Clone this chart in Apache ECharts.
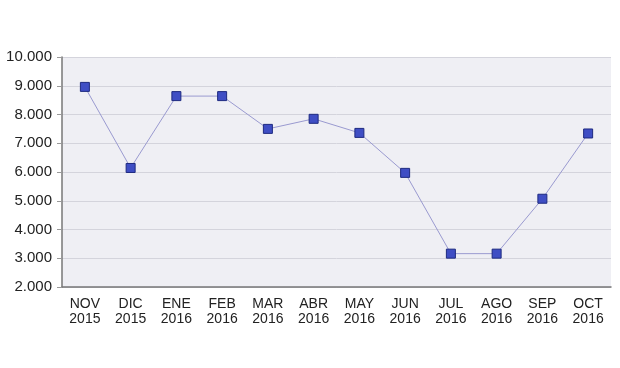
<!DOCTYPE html>
<html><head><meta charset="utf-8">
<script src="https://cdn.jsdelivr.net/npm/echarts@6/dist/echarts.min.js"></script>
<style>html,body{margin:0;padding:0;background:#fff}#c{width:620px;height:368px}</style>
</head><body><div id="c"></div>
<script>
var categories = ['NOV\n2015','DIC\n2015','ENE\n2016','FEB\n2016','MAR\n2016','ABR\n2016','MAY\n2016','JUN\n2016','JUL\n2016','AGO\n2016','SEP\n2016','OCT\n2016'];
var values = [8960, 6140, 8640, 8640, 7500, 7850, 7360, 5970, 3160, 3160, 5070, 7340];
var yMin = 2000, yMax = 10000, yStep = 1000;

function fmt(v){ return String(v).replace(/\B(?=(\d{3})+(?!\d))/g, '.'); }

var chart = echarts.init(document.getElementById('c'), null, {renderer:'canvas'});
chart.setOption({
  animation: false,
  backgroundColor: '#ffffff',
  grid: {left: 62, right: 9, top: 57, bottom: 81, show: true, backgroundColor: '#efeff4', borderWidth: 0},
  xAxis: {
    type: 'category', data: categories, boundaryGap: true,
    axisLine: {lineStyle: {color: '#777777', width: 1.5}},
    axisTick: {show: false},
    axisLabel: {color: '#222222', fontFamily: 'Liberation Sans, Arial, sans-serif', fontSize: 14, lineHeight: 15, margin: 10}
  },
  yAxis: {
    type: 'value', min: yMin, max: yMax, interval: yStep,
    axisLine: {show: true, lineStyle: {color: '#777777', width: 1.5}},
    axisTick: {show: true, length: 5, lineStyle: {color: '#999999'}},
    splitLine: {lineStyle: {color: '#d4d4dc', width: 1}},
    axisLabel: {color: '#222222', fontFamily: 'Liberation Sans, Arial, sans-serif', fontSize: 15, margin: 10, formatter: fmt}
  },
  series: [{
    type: 'line', data: values,
    symbol: 'rect', symbolSize: 9,
    lineStyle: {color: '#9a9ad0', width: 1},
    itemStyle: {color: '#3f4ec4', borderColor: '#1e2a80', borderWidth: 1}
  }]
});
</script></body></html>
